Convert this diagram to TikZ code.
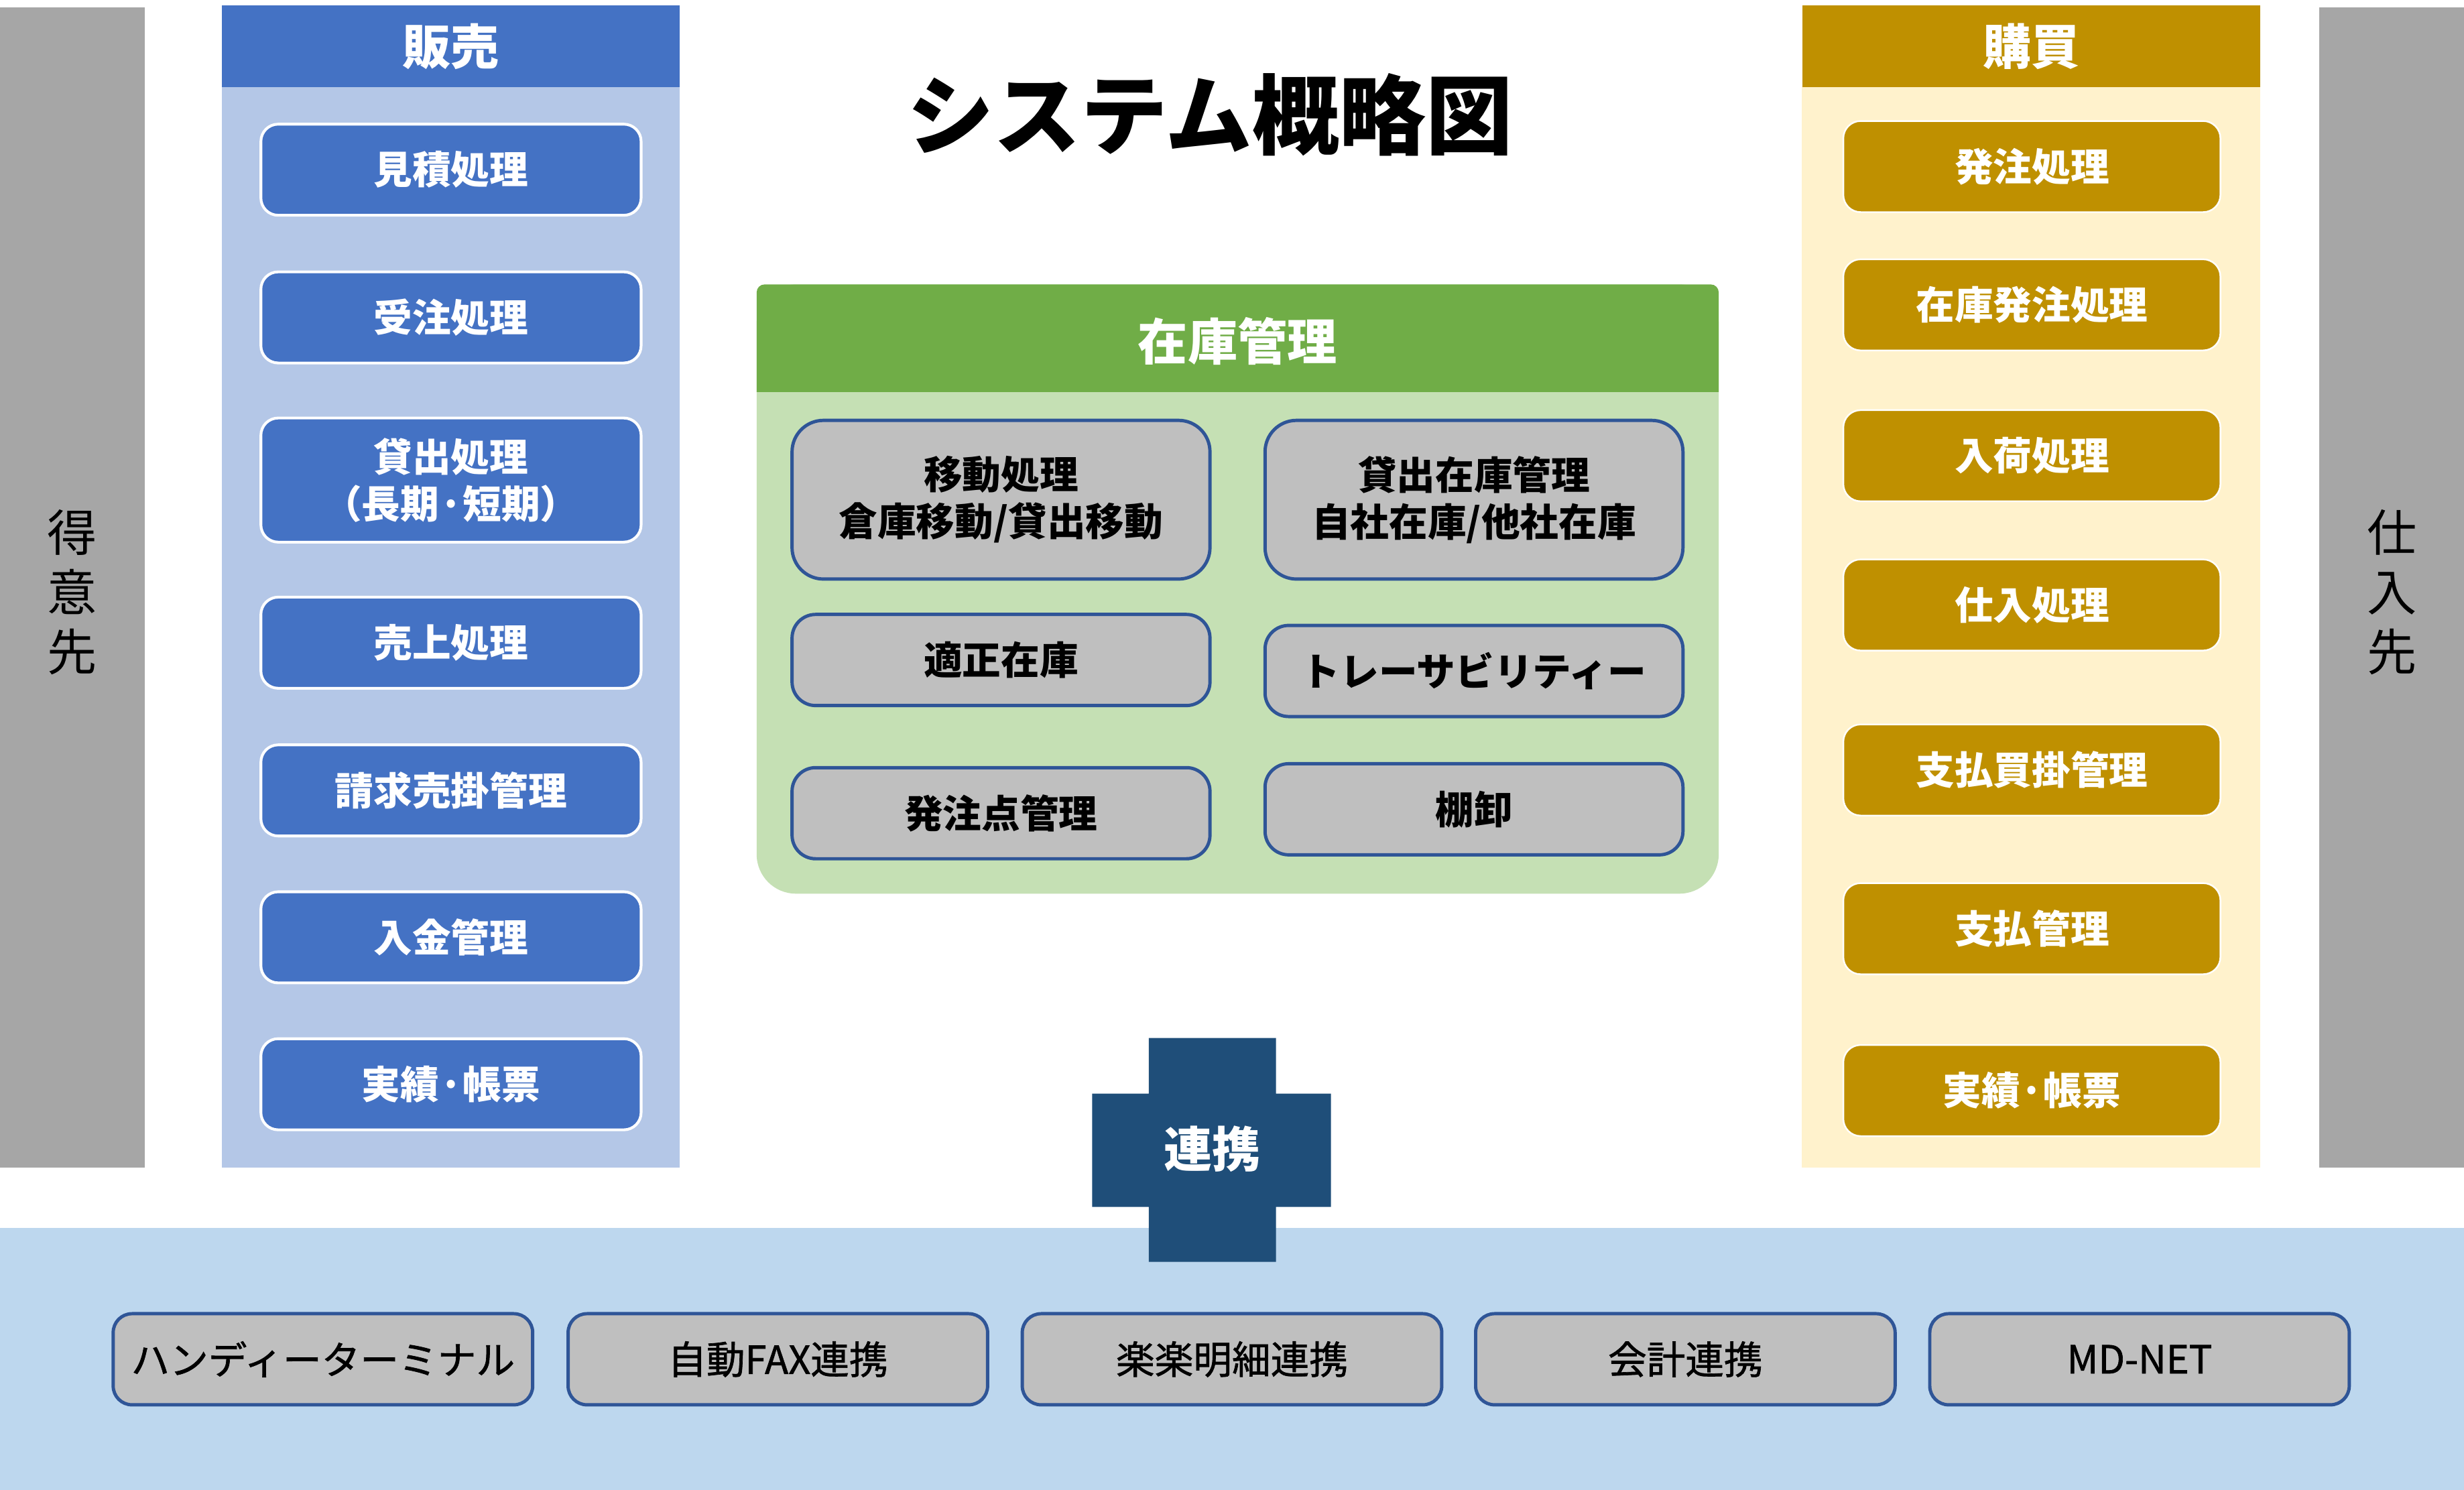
\documentclass[tikz,border=0pt]{standalone}
\usepackage{fontspec}
\setmainfont{Noto Sans CJK JP}
\newfontfamily\linkfont{Noto Sans CJK JP}[FakeBold=1.2]
\usetikzlibrary{positioning}
\definecolor{sidegray}{HTML}{A6A6A6}
\definecolor{salesblue}{HTML}{4472C4}
\definecolor{saleslight}{HTML}{B4C7E7}
\definecolor{buygold}{HTML}{BF9000}
\definecolor{buylight}{HTML}{FFF2CC}
\definecolor{stockgreen}{HTML}{70AD47}
\definecolor{stocklight}{HTML}{C5E0B4}
\definecolor{itemgray}{HTML}{BFBFBF}
\definecolor{itemline}{HTML}{2F5597}
\definecolor{linkblue}{HTML}{1F4E79}
\definecolor{bandblue}{HTML}{BDD7EE}
\tikzset{
  sidetext/.style={align=center, font=\fontsize{18}{21.6}\selectfont, text=black},
  headbox/.style={minimum width=5.83cm, minimum height=1.04cm, inner sep=0pt, text=white, font=\fontsize{17.5}{20}\selectfont\bfseries},
  salebtn/.style={draw=white, line width=1pt, fill=salesblue, rounded corners=0.22cm, minimum width=4.84cm, minimum height=1.16cm, inner sep=0pt, align=center, text=white, font=\fontsize{14}{17}\selectfont\bfseries},
  buybtn/.style={draw=white, line width=0.6pt, fill=buygold, rounded corners=0.22cm, minimum width=4.8cm, minimum height=1.16cm, inner sep=0pt, align=center, text=white, font=\fontsize{14}{17}\selectfont\bfseries},
  stockitem/.style={draw=itemline, line width=1.2pt, fill=itemgray, rounded corners=0.3cm, minimum width=5.32cm, minimum height=1.16cm, inner sep=0pt, align=center, text=black, font=\fontsize{14}{17}\selectfont\bfseries},
  linkitem/.style={draw=itemline, line width=1.2pt, fill=itemgray, rounded corners=0.24cm, minimum width=5.34cm, minimum height=1.16cm, inner sep=0pt, text=black, font=\fontsize{14}{17}\linkfont}
}
\begin{document}
\begin{tikzpicture}[x=0.02cm, y=-0.02cm]
  \useasboundingbox (0,0) rectangle (1568,948);
  % Bottom band
  \fill[bandblue] (0,781.5) rectangle (1568,948);
  % Customers and suppliers
  \fill[sidegray] (0,4.5) rectangle (92,743);
  \fill[sidegray] (1476,4.5) rectangle (1568,743);
  \node[sidetext] (tokui) at (46,377) {得\\意\\先};
  \node[sidetext] (shiire) at (1522,377) {仕\\入\\先};
  % Title
  \node[font=\fontsize{31.5}{36}\selectfont\bfseries] (title) at (770,73) {システム概略図};
  % Sales
  \fill[saleslight] (141,55.5) rectangle (432.5,743);
  \node[headbox, fill=salesblue] (hanbai) at (286.75,29.5) {販売};
  \node[salebtn] (mitsumori) at (287,108) {見積処理};
  \node[salebtn] (juchu) at (287,202) {受注処理};
  \node[salebtn, minimum height=1.58cm] (kashidashi) at (287,305.5) {貸出処理\\（長期·短期）};
  \node[salebtn] (uriage) at (287,409) {売上処理};
  \node[salebtn] (seikyu) at (287,503) {請求売掛管理};
  \node[salebtn] (nyukin) at (287,596.5) {入金管理};
  \node[salebtn] (jisseki) at (287,690) {実績·帳票};
  % Purchase
  \fill[buylight] (1146.6,55.5) rectangle (1438.4,743);
  \node[headbox, fill=buygold] (kobai) at (1292.5,29.5) {購買};
  \node[buybtn] (hatchu) at (1293,106) {発注処理};
  \node[buybtn] (zaikohatchu) at (1293,194) {在庫発注処理};
  \node[buybtn] (nyuka) at (1293,290) {入荷処理};
  \node[buybtn] (shiire2) at (1293,385) {仕入処理};
  \node[buybtn] (shiharaikake) at (1293,490) {支払買掛管理};
  \node[buybtn] (shiharai) at (1293,591) {支払管理};
  \node[buybtn] (jisseki2) at (1293,694) {実績·帳票};
  % Stock
  \fill[stocklight, rounded corners=0.5cm] (481.5,181) rectangle (1093.7,568.7);
  \fill[stockgreen] (481.5,249.5) [rounded corners=0.1cm] -- (481.5,181) -- (1093.7,181) [sharp corners] -- (1093.7,249.5) -- cycle;
  \node[text=white, font=\fontsize{18}{21}\selectfont\bfseries] (zaiko) at (787.5,217) {在庫管理};
  \node[stockitem, minimum height=2.02cm, rounded corners=0.4cm] (ido) at (637,318) {移動処理\\倉庫移動/貸出移動};
  \node[stockitem, minimum height=2.02cm, rounded corners=0.4cm] (kashizaiko) at (938,318) {貸出在庫管理\\自社在庫/他社在庫};
  \node[stockitem] (tekisei) at (637,420) {適正在庫};
  \node[stockitem] (trace) at (938,427) {トレーサビリティー};
  \node[stockitem] (hatchuten) at (637,517.5) {発注点管理};
  \node[stockitem] (tanaoroshi) at (938,515) {棚卸};
  % Link cross
  \fill[linkblue] (731,660.5) -- (812,660.5) -- (812,696) -- (847,696) -- (847,768) -- (812,768)
    -- (812,803) -- (731,803) -- (731,768) -- (695,768) -- (695,696) -- (731,696) -- cycle;
  \node[text=white, font=\fontsize{17.5}{20}\selectfont\bfseries] (renkei) at (771.5,731) {連携};
  % Linked systems
  \node[linkitem] (handy) at (205.5,865) {ハンディーターミナル};
  \node[linkitem] (fax) at (495,865) {自動FAX連携};
  \node[linkitem] (rakuraku) at (784,865) {楽楽明細連携};
  \node[linkitem] (kaikei) at (1072.5,865) {会計連携};
  \node[linkitem] (mdnet) at (1361.5,865) {MD-NET};
\end{tikzpicture}
\end{document}
